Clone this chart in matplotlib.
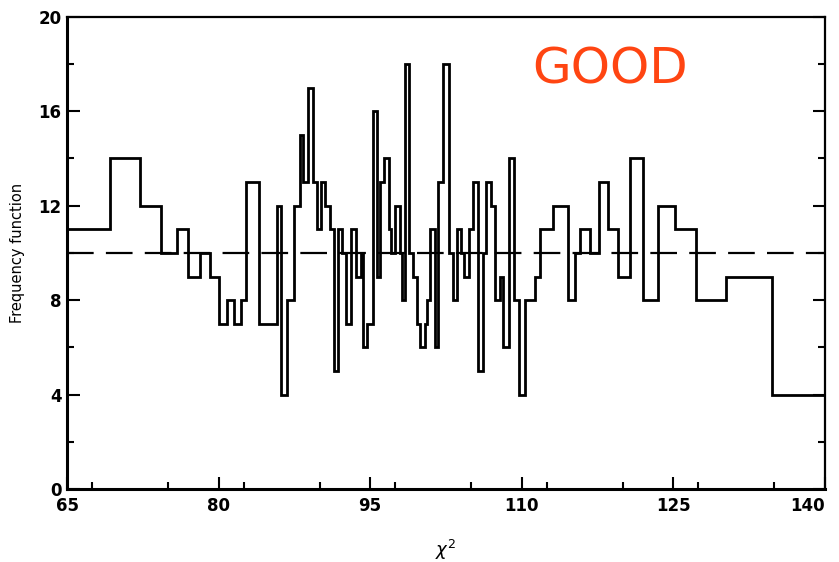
import numpy as np
import matplotlib
matplotlib.use("Agg")
import matplotlib.pyplot as plt
from matplotlib.ticker import MultipleLocator

# bin edges (chi^2) and counts
edges = [65.0, 69.25, 72.22, 74.3, 75.85, 77.0, 78.15, 79.15, 80.05, 80.85,
         81.5, 82.2, 82.75, 84.0, 85.75, 86.15, 86.8, 87.45, 88.05, 88.35,
         88.85, 89.3, 89.75, 90.1, 90.5, 91.0, 91.4, 91.8, 92.2, 92.65,
         93.15, 93.6, 94.05, 94.25, 94.65, 95.25, 95.7, 95.95, 96.35, 96.9,
         97.1, 97.45, 97.95, 98.15, 98.45, 98.85, 99.2, 99.6, 99.9, 100.4,
         100.6, 100.9, 101.4, 101.75, 102.2, 102.8, 103.2, 103.6, 104.0, 104.3,
         104.75, 105.15, 105.7, 106.2, 106.45, 107.0, 107.35, 107.85, 108.15, 108.75,
         109.25, 109.75, 110.3, 111.3, 111.85, 113.1, 114.55, 115.25, 115.8, 116.75,
         117.65, 118.5, 119.55, 120.7, 122.0, 123.5, 125.15, 127.3, 130.2, 134.8,
         140.0]
counts = [11, 14, 12, 10, 11, 9, 10, 9, 7, 8,
          7, 8, 13, 7, 12, 4, 8, 12, 15, 13,
          17, 13, 11, 13, 12, 11, 5, 11, 10, 7,
          11, 9, 10, 6, 7, 16, 9, 13, 14, 11,
          10, 12, 10, 8, 18, 10, 9, 7, 6, 7,
          8, 11, 6, 13, 18, 10, 8, 11, 10, 9,
          11, 13, 5, 10, 13, 12, 8, 9, 6, 14,
          8, 4, 8, 9, 11, 12, 8, 10, 11, 10,
          13, 11, 9, 14, 8, 12, 11, 8, 9, 4]
expected = 10
xticks = [65, 80, 95, 110, 125, 140]
yticks = [0, 4, 8, 12, 16, 20]

fig = plt.figure(figsize=(8.39, 5.62), dpi=100)
ax = fig.add_axes([0.080, 0.130, 0.903, 0.840])

ax.stairs(counts, edges, baseline=None, color="black", linewidth=2.0)
ax.axhline(expected, color="black", linewidth=1.6, dashes=(12, 5.5))

ax.set_xlim(65, 140)
ax.set_ylim(0, 20)
ax.set_xticks(xticks)
ax.set_yticks(yticks)
ax.xaxis.set_minor_locator(MultipleLocator(7.5))
ax.yaxis.set_minor_locator(MultipleLocator(2))
ax.tick_params(which="both", direction="in", right=True, width=1.5,
               labelsize=12, pad=4)
ax.tick_params(axis="x", pad=6)
ax.tick_params(which="major", length=9)
ax.tick_params(which="minor", length=5)
for lab in ax.get_xticklabels() + ax.get_yticklabels():
    lab.set_fontweight("bold")
# last x label sits inside the right edge as in the original
ax.get_xticklabels()[-1].set_horizontalalignment("right")
ax.get_xticklabels()[-1].set_x(140.3)

for side in ["left", "bottom"]:
    ax.spines[side].set_linewidth(2.2)
for side in ["top", "right"]:
    ax.spines[side].set_linewidth(1.6)

ax.set_ylabel("Frequency function", fontsize=10.5, labelpad=10)
ax.set_xlabel(r"$\chi^2$", fontsize=13, labelpad=16)

ax.text(118.8, 17.75, "GOOD", color="#ff4512", fontsize=36,
        ha="center", va="center")

fig.savefig("out.png", dpi=100)
